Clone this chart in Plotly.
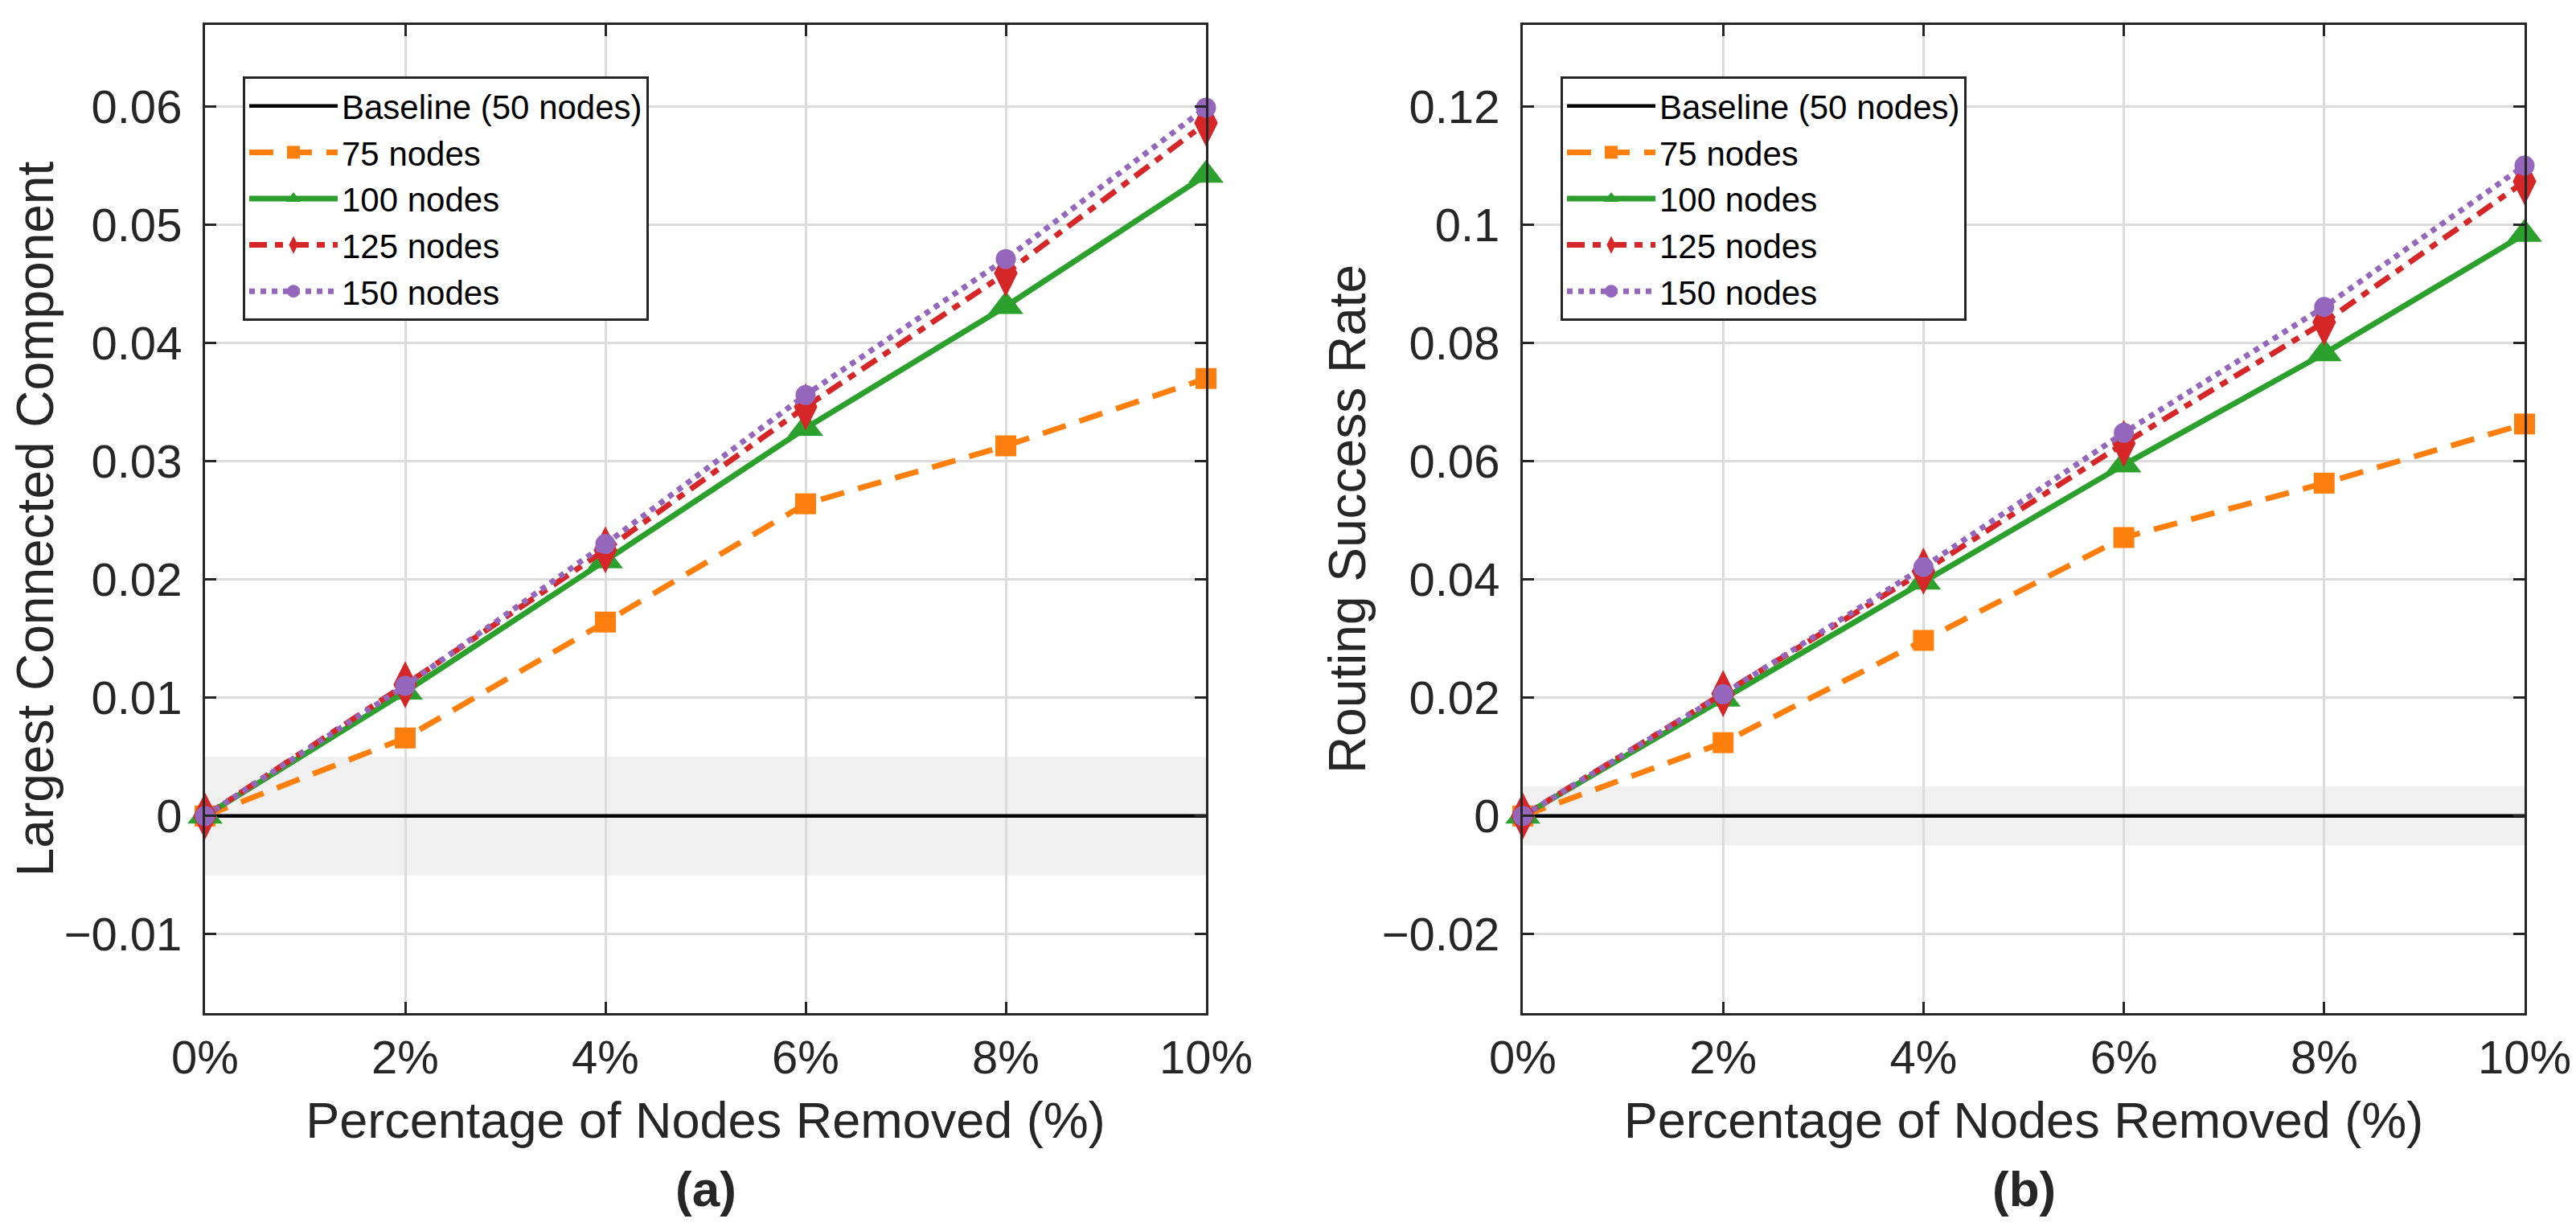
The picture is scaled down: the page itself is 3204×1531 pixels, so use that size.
import plotly.graph_objects as go

# ---------------- data ----------------
pct = [0, 2, 4, 6, 8, 10]
x_tick_labels = ["0%", "2%", "4%", "6%", "8%", "10%"]
baseline = [0, 0, 0, 0, 0, 0]

lcc_75 = [0, 0.0066, 0.0164, 0.0264, 0.0313, 0.0370]
lcc_100 = [0, 0.0105, 0.0216, 0.0328, 0.0431, 0.0542]
lcc_125 = [0, 0.0111, 0.0225, 0.0346, 0.0459, 0.0586]
lcc_150 = [0, 0.0110, 0.0230, 0.0356, 0.0471, 0.0599]

rsr_75 = [0, 0.0124, 0.0297, 0.0471, 0.0563, 0.0663]
rsr_100 = [0, 0.0198, 0.0396, 0.0594, 0.0782, 0.0984]
rsr_125 = [0, 0.0207, 0.0414, 0.0630, 0.0835, 0.1073]
rsr_150 = [0, 0.0206, 0.0421, 0.0648, 0.0861, 0.1100]

left_ytick_vals = [-0.01, 0, 0.01, 0.02, 0.03, 0.04, 0.05, 0.06]
left_ytick_text = ["\u22120.01", "0", "0.01", "0.02", "0.03", "0.04", "0.05", "0.06"]
right_ytick_vals = [-0.02, 0, 0.02, 0.04, 0.06, 0.08, 0.1, 0.12]
right_ytick_text = ["\u22120.02", "0", "0.02", "0.04", "0.06", "0.08", "0.1", "0.12"]

left_yrange = [-0.01667, 0.0669]
right_yrange = [-0.03334, 0.1338]
left_band = [-0.005, 0.005]
right_band = [-0.005, 0.005]

series_names = ["Baseline (50 nodes)", "75 nodes", "100 nodes", "125 nodes", "150 nodes"]

# ---------------- styles ----------------
FONT = "Liberation Sans, Arial, Helvetica, sans-serif"
TXT = "#262626"
styles = [
    dict(color="#000000", dash="solid", symbol=None, size=0, width=4.5),
    dict(color="#ff7f0e", dash="30px,18px", symbol="square", size=26, width=7),
    dict(color="#2ca02c", dash="solid", symbol="triangle-up", size=38, width=7),
    dict(color="#d62728", dash="22px,10px,10px,10px", symbol="diamond-tall", size=42, width=7),
    dict(color="#9467bd", dash="7px,7px", symbol="circle", size=25, width=7),
]

fig = go.Figure()

def add_panel(series, xa, ya, legend):
    for name, ys, st in zip(series_names, series, styles):
        kw = dict(
            x=pct, y=ys, name=name, xaxis=xa, yaxis=ya, legend=legend,
            line=dict(color=st["color"], dash=st["dash"], width=st["width"]),
            cliponaxis=False,
        )
        if st["symbol"]:
            kw["mode"] = "lines+markers"
            kw["marker"] = dict(symbol=st["symbol"], size=st["size"], color=st["color"],
                                line=dict(width=0))
        else:
            kw["mode"] = "lines"
        fig.add_trace(go.Scatter(**kw))

add_panel([baseline, lcc_75, lcc_100, lcc_125, lcc_150], "x", "y", "legend")
add_panel([baseline, rsr_75, rsr_100, rsr_125, rsr_150], "x2", "y2", "legend2")

W, H = 3204, 1531
lx0, lx1 = 247 / W, 1492 / W
rx0, rx1 = 1886 / W, 3132 / W
yb, yt = 1 - 1252 / H, 1 - 23 / H

def xaxis(domain, anchor):
    return dict(
        domain=domain, anchor=anchor, range=[0, 10], automargin=False,
        tickvals=pct, ticktext=x_tick_labels,
        ticks="inside", ticklen=14, tickwidth=3, tickcolor=TXT,
        showline=True, linewidth=3, linecolor=TXT, mirror="all",
        showgrid=True, gridcolor="#dcdcdc", gridwidth=3,
        zeroline=False,
        tickfont=dict(family=FONT, size=58, color=TXT),
        ticklabelstandoff=2,
        title=dict(text="Percentage of Nodes Removed (%)",
                   font=dict(family=FONT, size=63, color=TXT), standoff=26),
    )

def yaxis(domain, anchor, rng, vals, text, title):
    return dict(
        domain=domain, anchor=anchor, range=rng, automargin=False,
        tickvals=vals, ticktext=text,
        ticks="inside", ticklen=14, tickwidth=3, tickcolor=TXT,
        showline=True, linewidth=3, linecolor=TXT, mirror="all",
        showgrid=True, gridcolor="#dcdcdc", gridwidth=3,
        zeroline=False,
        tickfont=dict(family=FONT, size=58, color=TXT),
        ticklabelstandoff=14,
        title=dict(text=title, font=dict(family=FONT, size=64, color=TXT), standoff=0),
    )

legend_common = dict(
    xanchor="left", yanchor="top",
    bgcolor="white", bordercolor=TXT, borderwidth=3,
    font=dict(family=FONT, size=42, color="#000000"),
    itemwidth=110, tracegroupgap=0,
)

fig.update_layout(
    width=W, height=H, autosize=False,
    margin=dict(l=0, r=0, t=0, b=0, pad=0, autoexpand=False),
    paper_bgcolor="white", plot_bgcolor="white",
    font=dict(family=FONT, color=TXT),
    xaxis=xaxis([lx0, lx1], "y"),
    yaxis=yaxis([yb, yt], "x", left_yrange, left_ytick_vals, left_ytick_text,
                "Largest Connected Component"),
    xaxis2=xaxis([rx0, rx1], "y2"),
    yaxis2=yaxis([yb, yt], "x2", right_yrange, right_ytick_vals, right_ytick_text,
                 "Routing Success Rate"),
    legend=dict(x=294 / W, y=1 - 87 / H, **legend_common),
    legend2=dict(x=1933 / W, y=1 - 87 / H, **legend_common),
    shapes=[
        dict(type="rect", xref="x domain", yref="y", x0=0, x1=1,
             y0=left_band[0], y1=left_band[1], fillcolor="#f0f0f0",
             line=dict(width=0), layer="below"),
        dict(type="rect", xref="x2 domain", yref="y2", x0=0, x1=1,
             y0=right_band[0], y1=right_band[1], fillcolor="#f0f0f0",
             line=dict(width=0), layer="below"),
    ],
    annotations=[
        dict(text="<b>(a)</b>", xref="paper", yref="paper", x=(lx0 + lx1) / 2,
             y=1 - 1470 / H, xanchor="center", yanchor="middle", showarrow=False,
             font=dict(family=FONT, size=62, color=TXT)),
        dict(text="<b>(b)</b>", xref="paper", yref="paper", x=(rx0 + rx1) / 2,
             y=1 - 1470 / H, xanchor="center", yanchor="middle", showarrow=False,
             font=dict(family=FONT, size=62, color=TXT)),
    ],
)

fig.write_html("out.html")
